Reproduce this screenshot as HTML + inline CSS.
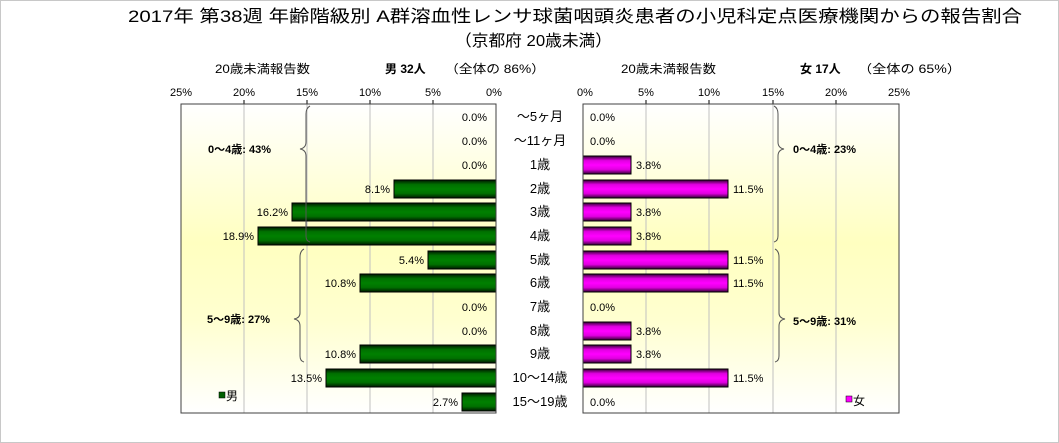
<!DOCTYPE html>
<html><head><meta charset="utf-8"><style>
html,body{margin:0;padding:0;background:#fff;}
svg{display:block;font-family:"Liberation Sans","Noto Sans CJK JP",sans-serif;}
</style></head><body>
<svg width="1059" height="443" viewBox="0 0 1059 443" xmlns="http://www.w3.org/2000/svg">
<defs>
<linearGradient id="bg" x1="0" y1="0" x2="0" y2="1">
<stop offset="0" stop-color="#ffffff"/><stop offset="0.45" stop-color="#ffffc0"/><stop offset="0.7" stop-color="#ffffd0"/><stop offset="1" stop-color="#ffffff"/>
</linearGradient>
<linearGradient id="g" x1="0" y1="0" x2="0" y2="1">
<stop offset="0" stop-color="#001800"/><stop offset="0.25" stop-color="#007000"/><stop offset="0.5" stop-color="#008000"/><stop offset="0.75" stop-color="#007000"/><stop offset="1" stop-color="#001800"/>
</linearGradient>
<linearGradient id="m" x1="0" y1="0" x2="0" y2="1">
<stop offset="0" stop-color="#300030"/><stop offset="0.25" stop-color="#e000e0"/><stop offset="0.5" stop-color="#ff00ff"/><stop offset="0.75" stop-color="#e000e0"/><stop offset="1" stop-color="#300030"/>
</linearGradient>
</defs>
<rect x="0.5" y="0.5" width="1058" height="442" fill="#fff" stroke="#c8c8c8"/>
<text x="128" y="22" font-size="17" textLength="894" lengthAdjust="spacingAndGlyphs">2017年 第38週 年齢階級別 A群溶血性レンサ球菌咽頭炎患者の小児科定点医療機関からの報告割合</text>
<text x="455" y="46" font-size="16" textLength="157" lengthAdjust="spacingAndGlyphs">（京都府 20歳未満）</text>
<g font-size="12">
<text x="215" y="73" textLength="95" lengthAdjust="spacingAndGlyphs">20歳未満報告数</text>
<text x="385" y="73" font-weight="bold">男 32人</text><text x="445" y="73" textLength="100" lengthAdjust="spacingAndGlyphs">（全体の 86%）</text>
<text x="621" y="73" textLength="95" lengthAdjust="spacingAndGlyphs">20歳未満報告数</text>
<text x="800" y="73" font-weight="bold">女 17人</text><text x="858" y="73" textLength="103" lengthAdjust="spacingAndGlyphs">（全体の 65%）</text>
</g>
<rect x="181" y="104" width="315" height="309" fill="url(#bg)"/>
<rect x="583" y="104" width="316" height="309" fill="url(#bg)"/>
<g stroke="#c0c0c0" stroke-width="1">
<line x1="244" y1="104" x2="244" y2="413"/><line x1="307" y1="104" x2="307" y2="413"/><line x1="370" y1="104" x2="370" y2="413"/><line x1="433" y1="104" x2="433" y2="413"/>
<line x1="646" y1="104" x2="646" y2="413"/><line x1="709" y1="104" x2="709" y2="413"/><line x1="773" y1="104" x2="773" y2="413"/><line x1="836" y1="104" x2="836" y2="413"/>
</g>
<g stroke="#000" stroke-width="1">
<line x1="244" y1="100" x2="244" y2="104"/><line x1="307" y1="100" x2="307" y2="104"/><line x1="370" y1="100" x2="370" y2="104"/><line x1="433" y1="100" x2="433" y2="104"/>
<line x1="646" y1="100" x2="646" y2="104"/><line x1="709" y1="100" x2="709" y2="104"/><line x1="773" y1="100" x2="773" y2="104"/><line x1="836" y1="100" x2="836" y2="104"/>
</g>
<g font-size="11" text-anchor="middle">
<text x="181" y="96">25%</text><text x="244" y="96">20%</text><text x="307" y="96">15%</text><text x="370" y="96">10%</text><text x="433" y="96">5%</text><text x="494" y="96">0%</text>
<text x="585" y="96">0%</text><text x="646" y="96">5%</text><text x="709" y="96">10%</text><text x="773" y="96">15%</text><text x="836" y="96">20%</text><text x="899" y="96">25%</text>
</g>
<g fill="url(#g)" stroke="#000" stroke-width="1">
<rect x="394" y="180" width="102" height="18"/>
<rect x="292" y="203" width="204" height="18"/>
<rect x="258" y="227" width="238" height="18"/>
<rect x="428" y="251" width="68" height="18"/>
<rect x="360" y="274" width="136" height="18"/>
<rect x="360" y="345" width="136" height="18"/>
<rect x="326" y="369" width="170" height="18"/>
<rect x="462" y="393" width="34" height="18"/>
</g>
<g fill="url(#m)" stroke="#000" stroke-width="1">
<rect x="583" y="156" width="48" height="18"/>
<rect x="583" y="180" width="145" height="18"/>
<rect x="583" y="203" width="48" height="18"/>
<rect x="583" y="227" width="48" height="18"/>
<rect x="583" y="251" width="145" height="18"/>
<rect x="583" y="274" width="145" height="18"/>
<rect x="583" y="322" width="48" height="18"/>
<rect x="583" y="345" width="48" height="18"/>
<rect x="583" y="369" width="145" height="18"/>
</g>
<rect x="181" y="104" width="315" height="309" fill="none" stroke="#404040"/>
<rect x="583" y="104" width="316" height="309" fill="none" stroke="#404040"/>
<g fill="none" stroke="#555" stroke-width="1">
<path d="M310,106 Q306,108 306,114 L306,142 Q306,148 300,149 Q306,150 306,156 L306,236 Q306,241 310,242"/>
<path d="M304,249 Q300,251 300,257 L300,313 Q300,318 294,319 Q300,320 300,326 L300,356 Q300,361 304,362"/>
<path d="M774,106 Q778,108 778,114 L778,142 Q778,148 784,149 Q778,150 778,156 L778,236 Q778,241 774,242"/>
<path d="M775,249 Q779,251 779,257 L779,313 Q779,318 785,319 Q779,320 779,326 L779,356 Q779,361 775,362"/>
</g>
<g font-size="11" font-weight="bold">
<text x="208" y="153">0〜4歳: 43%</text>
<text x="207" y="323">5〜9歳: 27%</text>
<text x="793" y="153">0〜4歳: 23%</text>
<text x="793" y="325">5〜9歳: 31%</text>
</g>
<g font-size="11" text-anchor="end">
<text x="487" y="121">0.0%</text><text x="487" y="145">0.0%</text><text x="487" y="169">0.0%</text>
<text x="390" y="193">8.1%</text><text x="288" y="216">16.2%</text><text x="254" y="240">18.9%</text>
<text x="424" y="264">5.4%</text><text x="356" y="287">10.8%</text>
<text x="487" y="311">0.0%</text><text x="487" y="335">0.0%</text>
<text x="356" y="358">10.8%</text><text x="322" y="382">13.5%</text><text x="458" y="406">2.7%</text>
</g>
<g font-size="11">
<text x="590" y="121">0.0%</text><text x="590" y="145">0.0%</text>
<text x="636" y="169">3.8%</text><text x="733" y="193">11.5%</text><text x="636" y="216">3.8%</text><text x="636" y="240">3.8%</text>
<text x="733" y="264">11.5%</text><text x="733" y="287">11.5%</text>
<text x="590" y="311">0.0%</text><text x="636" y="335">3.8%</text><text x="636" y="358">3.8%</text>
<text x="733" y="382">11.5%</text><text x="590" y="406">0.0%</text>
</g>
<g font-size="13" text-anchor="middle">
<text x="540" y="121">〜5ヶ月</text><text x="540" y="145">〜11ヶ月</text><text x="540" y="169">1歳</text>
<text x="540" y="193">2歳</text><text x="540" y="216">3歳</text><text x="540" y="240">4歳</text>
<text x="540" y="264">5歳</text><text x="540" y="287">6歳</text><text x="540" y="311">7歳</text>
<text x="540" y="335">8歳</text><text x="540" y="358">9歳</text><text x="540" y="382">10〜14歳</text><text x="540" y="406">15〜19歳</text>
</g>
<rect x="219" y="392" width="6" height="6" fill="#006000" stroke="#000" stroke-width="0.5"/>
<text x="226" y="400" font-size="12">男</text>
<rect x="846" y="396" width="6" height="6" fill="#ff00ff" stroke="#000" stroke-width="0.5"/>
<text x="853" y="405" font-size="12">女</text>
</svg>
</body></html>
